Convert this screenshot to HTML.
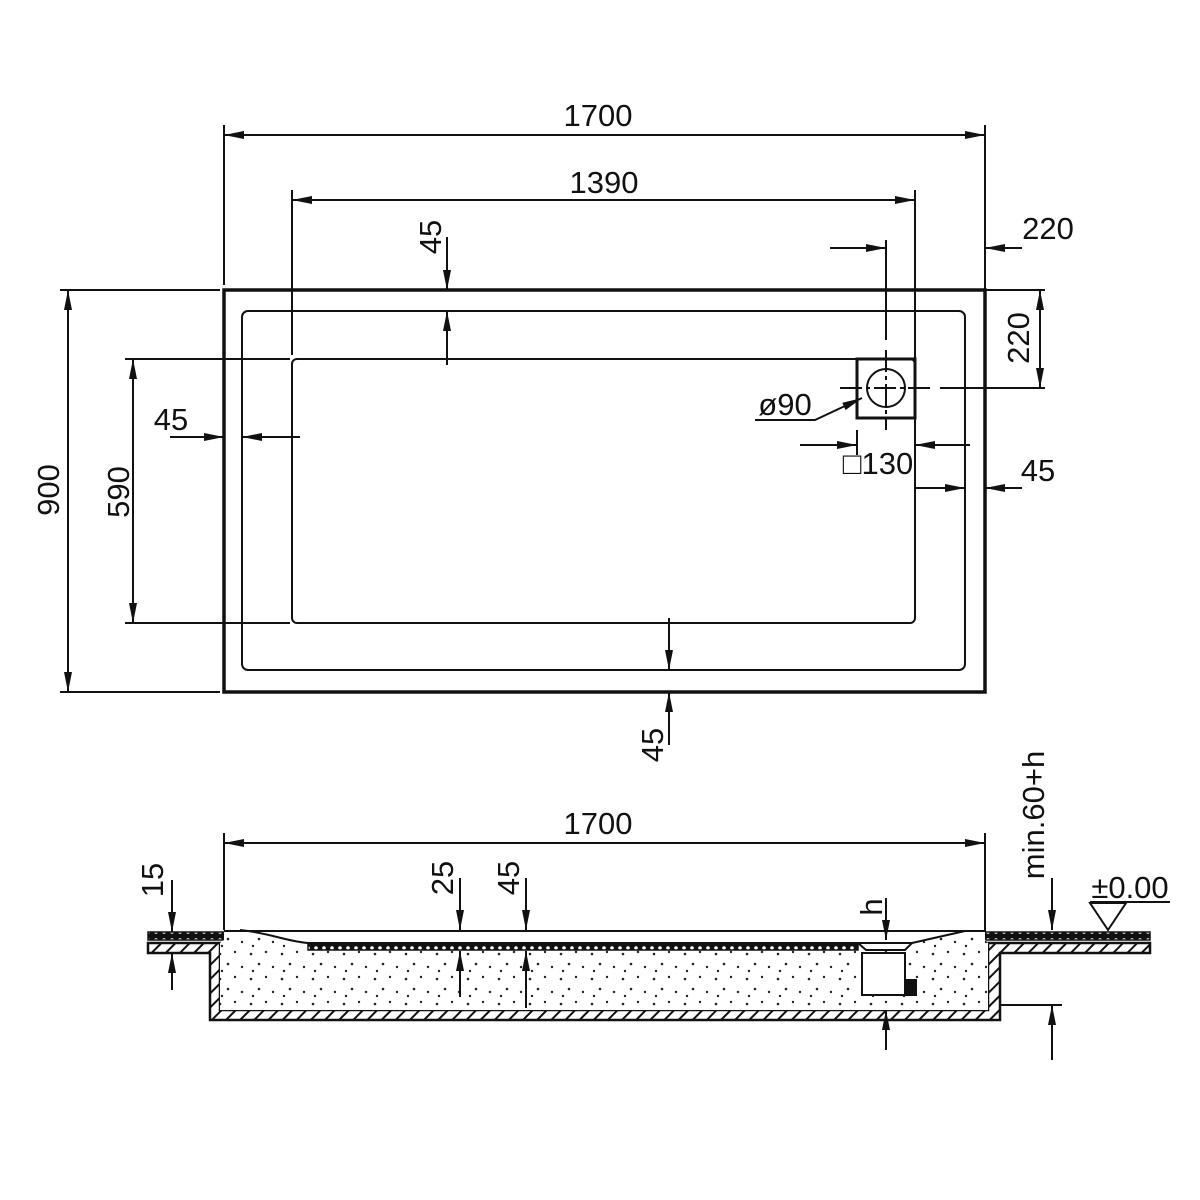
<!DOCTYPE html>
<html><head><meta charset="utf-8"><style>
html,body{margin:0;padding:0;background:#fff;}
svg{display:block;}
text{font-family:"Liberation Sans",sans-serif;font-size:31px;fill:#111;}
</style></head><body>
<svg width="1200" height="1200" viewBox="0 0 1200 1200" xmlns="http://www.w3.org/2000/svg">
<defs>
<marker id="a" viewBox="0 0 20 8" refX="20" refY="4" markerWidth="20" markerHeight="8" markerUnits="userSpaceOnUse" orient="auto-start-reverse"><path d="M0,0L20,4L0,8z" fill="#111"/></marker>
<pattern id="h" width="10" height="10" patternUnits="userSpaceOnUse" patternTransform="rotate(45)"><rect width="10" height="10" fill="#fff"/><line x1="0" y1="0" x2="0" y2="10" stroke="#111" stroke-width="4"/></pattern>
<pattern id="d" width="31" height="25" patternUnits="userSpaceOnUse"><rect width="31" height="25" fill="#fff"/><circle cx="3" cy="4" r="1.3" fill="#222"/><circle cx="18" cy="2" r="1.2" fill="#222"/><circle cx="11" cy="14" r="1.3" fill="#222"/><circle cx="25" cy="17" r="1.2" fill="#222"/><circle cx="5" cy="21" r="1.2" fill="#222"/></pattern>
<pattern id="t" width="8" height="8" patternUnits="userSpaceOnUse"><rect width="8" height="8" fill="#111"/><circle cx="4" cy="4" r="1.8" fill="#fff"/></pattern>
</defs>
<g fill="none" stroke="#111" stroke-width="2">
<rect x="224" y="290" width="761" height="402" stroke-width="3.5"/>
<rect x="242" y="311" width="723" height="359" rx="6"/>
<rect x="292" y="359" width="623" height="264" rx="5"/>
<rect x="857" y="359" width="58" height="59" stroke-width="3"/>
<circle cx="886" cy="388" r="19"/>
<line x1="886" y1="240" x2="886" y2="340"/>
<line x1="886" y1="350" x2="886" y2="430" stroke-dasharray="22,4,4,4"/>
<line x1="840" y1="388" x2="930" y2="388" stroke-dasharray="22,4,4,4"/>
<line x1="940" y1="388" x2="1045" y2="388"/>
<line x1="224" y1="125" x2="224" y2="285"/><line x1="985" y1="125" x2="985" y2="290"/>
<line x1="292" y1="190" x2="292" y2="355"/><line x1="915" y1="190" x2="915" y2="359"/>
<line x1="985" y1="290" x2="1045" y2="290"/>
<line x1="60" y1="290" x2="220" y2="290"/><line x1="60" y1="692" x2="220" y2="692"/>
<line x1="125" y1="359" x2="290" y2="359"/><line x1="125" y1="623" x2="290" y2="623"/>
<line x1="857" y1="430" x2="857" y2="455"/>
<line x1="915" y1="420" x2="915" y2="495"/><line x1="965" y1="440" x2="965" y2="495"/>
<line x1="224" y1="135" x2="985" y2="135" marker-start="url(#a)" marker-end="url(#a)"/>
<line x1="292" y1="200" x2="915" y2="200" marker-start="url(#a)" marker-end="url(#a)"/>
<line x1="447" y1="237" x2="447" y2="290" marker-end="url(#a)"/>
<line x1="447" y1="365" x2="447" y2="311" marker-end="url(#a)"/>
<line x1="830" y1="248" x2="886" y2="248" marker-end="url(#a)"/>
<line x1="1022" y1="248" x2="985" y2="248" marker-end="url(#a)"/>
<line x1="1040" y1="290" x2="1040" y2="388" marker-start="url(#a)" marker-end="url(#a)"/>
<polyline points="755,420 815,420 862,398" marker-end="url(#a)"/>
<line x1="800" y1="445" x2="857" y2="445" marker-end="url(#a)"/>
<line x1="970" y1="445" x2="915" y2="445" marker-end="url(#a)"/>
<line x1="915" y1="488" x2="965" y2="488" marker-end="url(#a)"/>
<line x1="1022" y1="488" x2="985" y2="488" marker-end="url(#a)"/>
<line x1="170" y1="437" x2="224" y2="437" marker-end="url(#a)"/>
<line x1="300" y1="437" x2="242" y2="437" marker-end="url(#a)"/>
<line x1="68" y1="290" x2="68" y2="692" marker-start="url(#a)" marker-end="url(#a)"/>
<line x1="133" y1="359" x2="133" y2="623" marker-start="url(#a)" marker-end="url(#a)"/>
<line x1="669" y1="618" x2="669" y2="670" marker-end="url(#a)"/>
<line x1="669" y1="745" x2="669" y2="692" marker-end="url(#a)"/>
</g>
<g fill="none" stroke="#111" stroke-width="2">
<path d="M148,943 H220 V1010 H988 V943 H1150 V953 H1000 V1020 H210 V953 H148 Z" fill="url(#h)" stroke-width="2.5"/>
<rect x="148" y="932" width="76" height="8" fill="url(#t)" stroke-width="1.5"/>
<rect x="985" y="932" width="165" height="8" fill="url(#t)" stroke-width="1.5"/>
<path d="M224,931 H985 V940 L988,943 V1010 H220 V943 L224,940 Z" stroke="none" fill="url(#d)"/>
<path d="M224,932 H985 L965,931 C945,935 930,940 912,943 H308 C290,942 275,935 240,930" fill="#fff" stroke="none"/>
<line x1="224" y1="931" x2="985" y2="931"/>
<path d="M240,930 C270,933 285,941 308,943 H858"/>
<path d="M912,943 L965,931"/>
<rect x="308" y="943" width="550" height="7" fill="url(#t)" stroke-width="1.5"/>
<path d="M858,943 H912 L905,950 H866 Z" fill="#fff"/>
<rect x="862" y="953" width="43" height="42" fill="#fff"/>
<rect x="906" y="980" width="10" height="15" fill="#111"/>
<line x1="224" y1="833" x2="224" y2="930"/><line x1="985" y1="833" x2="985" y2="932"/>
<line x1="1000" y1="1005" x2="1062" y2="1005"/>
<line x1="224" y1="843" x2="985" y2="843" marker-start="url(#a)" marker-end="url(#a)"/>
<line x1="172" y1="880" x2="172" y2="932" marker-end="url(#a)"/>
<line x1="172" y1="990" x2="172" y2="953" marker-end="url(#a)"/>
<line x1="460" y1="878" x2="460" y2="930" marker-end="url(#a)"/>
<line x1="460" y1="997" x2="460" y2="951" marker-end="url(#a)"/>
<line x1="526" y1="878" x2="526" y2="930" marker-end="url(#a)"/>
<line x1="526" y1="1008" x2="526" y2="951" marker-end="url(#a)"/>
<line x1="886" y1="898" x2="886" y2="940" marker-end="url(#a)"/>
<line x1="886" y1="1050" x2="886" y2="1010" marker-end="url(#a)"/>
<line x1="1052" y1="878" x2="1052" y2="930" marker-end="url(#a)"/>
<line x1="1052" y1="1060" x2="1052" y2="1005" marker-end="url(#a)"/>
<line x1="1090" y1="902" x2="1170" y2="902"/>
<path d="M1090,903 H1126 L1108,930 Z"/>
</g>
<g>
<text x="598" y="126" text-anchor="middle">1700</text>
<text x="604" y="193" text-anchor="middle">1390</text>
<text x="1048" y="239" text-anchor="middle">220</text>
<text x="171" y="430" text-anchor="middle">45</text>
<text x="1038" y="481" text-anchor="middle">45</text>
<text x="785" y="415" text-anchor="middle">ø90</text>
<text x="878" y="474" text-anchor="middle">□130</text>
<text transform="translate(441,237) rotate(-90)" text-anchor="middle">45</text>
<text transform="translate(1029,338) rotate(-90)" text-anchor="middle">220</text>
<text transform="translate(59,490) rotate(-90)" text-anchor="middle">900</text>
<text transform="translate(129,492) rotate(-90)" text-anchor="middle">590</text>
<text transform="translate(663,745) rotate(-90)" text-anchor="middle">45</text>
<text x="598" y="834" text-anchor="middle">1700</text>
<text transform="translate(163,880) rotate(-90)" text-anchor="middle">15</text>
<text transform="translate(453,878) rotate(-90)" text-anchor="middle">25</text>
<text transform="translate(519,878) rotate(-90)" text-anchor="middle">45</text>
<text transform="translate(882,907) rotate(-90)" text-anchor="middle">h</text>
<text transform="translate(1044,815) rotate(-90)" text-anchor="middle">min.60+h</text>
<text x="1130" y="898" text-anchor="middle">±0.00</text>
</g>
</svg>
</body></html>
